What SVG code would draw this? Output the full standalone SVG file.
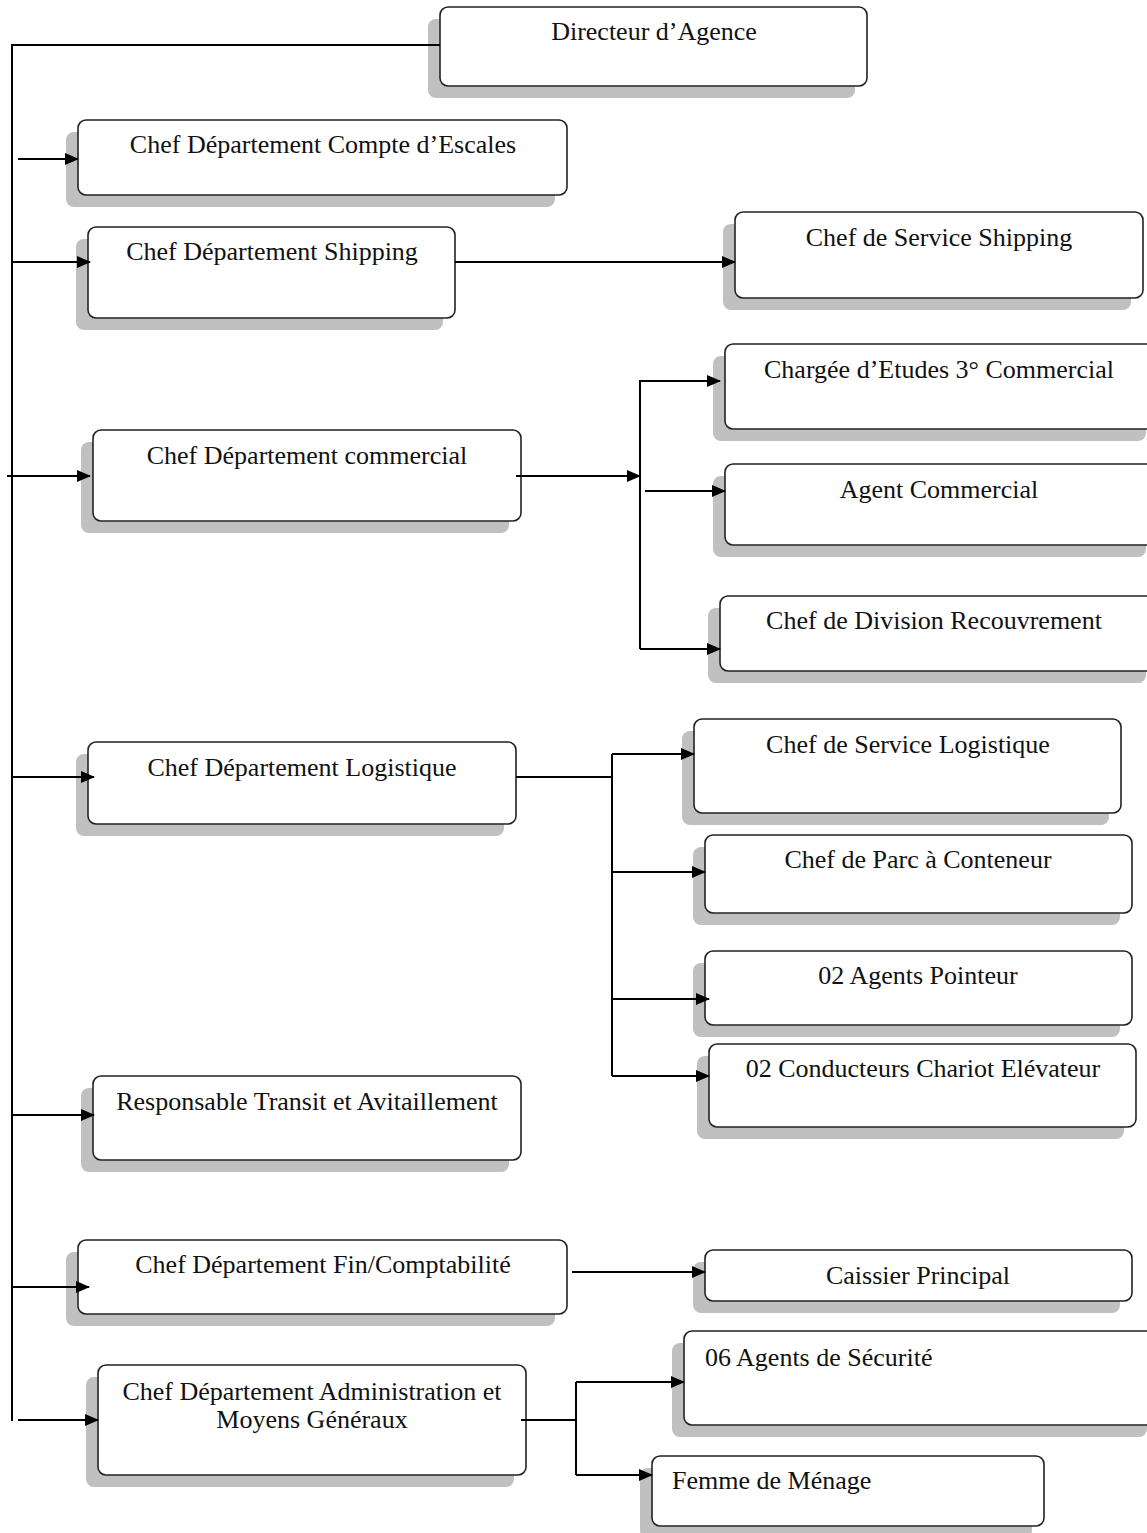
<svg xmlns="http://www.w3.org/2000/svg" width="1147" height="1533" viewBox="0 0 1147 1533">
<style>
.sh{fill:#c0c0c0;stroke:none}
.bx{fill:#fff;stroke:#222;stroke-width:1.6}
.t{font-family:"Liberation Serif","Times New Roman",serif;font-size:26px;fill:#111;text-anchor:middle}
.tl{text-anchor:start}
.c{fill:none;stroke:#000;stroke-width:2}
.a{fill:none;stroke:#000;stroke-width:2;marker-end:url(#ah)}
</style>
<defs>
<marker id="ah" viewBox="0 0 14 12" refX="13" refY="6" markerWidth="14" markerHeight="12" markerUnits="userSpaceOnUse" orient="auto">
<path d="M0,0 L14,6 L0,12 Z" fill="#000"/>
</marker>
</defs>
<g id="n1"><rect class="sh" x="428" y="19" width="427" height="79" rx="8"/><rect class="bx" x="440" y="7" width="427" height="79" rx="8"/><text class="t" x="654" y="40">Directeur d’Agence</text></g>
<g id="n2"><rect class="sh" x="66" y="132" width="489" height="75" rx="8"/><rect class="bx" x="78" y="120" width="489" height="75" rx="8"/><text class="t" x="323" y="153">Chef Département Compte d’Escales</text></g>
<g id="n3"><rect class="sh" x="76" y="239" width="367" height="91" rx="8"/><rect class="bx" x="88" y="227" width="367" height="91" rx="8"/><text class="t" x="272" y="260">Chef Département Shipping</text></g>
<g id="n4"><rect class="sh" x="723" y="224" width="408" height="86" rx="8"/><rect class="bx" x="735" y="212" width="408" height="86" rx="8"/><text class="t" x="939" y="246">Chef de Service Shipping</text></g>
<g id="n5"><rect class="sh" x="713" y="356" width="433" height="85" rx="8"/><rect class="bx" x="725" y="344" width="433" height="85" rx="8"/><text class="t" x="939" y="378">Chargée d’Etudes 3° Commercial</text></g>
<g id="n6"><rect class="sh" x="713" y="476" width="433" height="81" rx="8"/><rect class="bx" x="725" y="464" width="433" height="81" rx="8"/><text class="t" x="939" y="498">Agent Commercial</text></g>
<g id="n7"><rect class="sh" x="708" y="608" width="438" height="75" rx="8"/><rect class="bx" x="720" y="596" width="438" height="75" rx="8"/><text class="t" x="934" y="629">Chef de Division Recouvrement</text></g>
<g id="n8"><rect class="sh" x="81" y="442" width="428" height="91" rx="8"/><rect class="bx" x="93" y="430" width="428" height="91" rx="8"/><text class="t" x="307" y="464">Chef Département commercial</text></g>
<g id="n9"><rect class="sh" x="76" y="754" width="428" height="82" rx="8"/><rect class="bx" x="88" y="742" width="428" height="82" rx="8"/><text class="t" x="302" y="776">Chef Département Logistique</text></g>
<g id="n10"><rect class="sh" x="682" y="731" width="427" height="94" rx="8"/><rect class="bx" x="694" y="719" width="427" height="94" rx="8"/><text class="t" x="908" y="753">Chef de Service Logistique</text></g>
<g id="n11"><rect class="sh" x="693" y="847" width="427" height="78" rx="8"/><rect class="bx" x="705" y="835" width="427" height="78" rx="8"/><text class="t" x="918" y="868">Chef de Parc à Conteneur</text></g>
<g id="n12"><rect class="sh" x="693" y="963" width="427" height="74" rx="8"/><rect class="bx" x="705" y="951" width="427" height="74" rx="8"/><text class="t" x="918" y="984">02 Agents Pointeur</text></g>
<g id="n13"><rect class="sh" x="697" y="1056" width="427" height="83" rx="8"/><rect class="bx" x="709" y="1044" width="427" height="83" rx="8"/><text class="t" x="923" y="1077">02 Conducteurs Chariot Elévateur</text></g>
<g id="n14"><rect class="sh" x="81" y="1088" width="428" height="84" rx="8"/><rect class="bx" x="93" y="1076" width="428" height="84" rx="8"/><text class="t" x="307" y="1110">Responsable Transit et Avitaillement</text></g>
<g id="n15"><rect class="sh" x="66" y="1252" width="489" height="74" rx="8"/><rect class="bx" x="78" y="1240" width="489" height="74" rx="8"/><text class="t" x="323" y="1273">Chef Département Fin/Comptabilité</text></g>
<g id="n16"><rect class="sh" x="693" y="1262" width="427" height="51" rx="8"/><rect class="bx" x="705" y="1250" width="427" height="51" rx="8"/><text class="t" x="918" y="1284">Caissier Principal</text></g>
<g id="n17"><rect class="sh" x="86" y="1377" width="428" height="110" rx="8"/><rect class="bx" x="98" y="1365" width="428" height="110" rx="8"/><text class="t" x="312" y="1400">Chef Département Administration et</text><text class="t" x="312" y="1428">Moyens Généraux</text></g>
<g id="n18"><rect class="sh" x="672" y="1343" width="475" height="94" rx="8"/><rect class="bx" x="684" y="1331" width="475" height="94" rx="8"/><text class="t tl" x="705" y="1366">06 Agents de Sécurité</text></g>
<g id="n19"><rect class="sh" x="640" y="1468" width="392" height="70" rx="8"/><rect class="bx" x="652" y="1456" width="392" height="70" rx="8"/><text class="t tl" x="672" y="1489">Femme de Ménage</text></g>
<g id="connectors">
<path class="c" d="M440,45 H12 V1421"/>
<path class="a" d="M18,159 H78"/>
<path class="a" d="M12,262 H90"/>
<path class="a" d="M455,262 H735"/>
<path class="a" d="M7,476 H90"/>
<path class="a" d="M516,476 H640"/>
<path class="c" d="M720,381 H640 V649"/>
<path class="a" d="M640,381 H720"/>
<path class="a" d="M645,491 H725"/>
<path class="a" d="M640,649 H720"/>
<path class="a" d="M12,777 H94"/>
<path class="c" d="M516,777 H612"/>
<path class="c" d="M612,754 V1076"/>
<path class="a" d="M612,754 H694"/>
<path class="a" d="M612,872 H705"/>
<path class="a" d="M612,999 H709"/>
<path class="a" d="M612,1076 H709"/>
<path class="a" d="M12,1115 H94"/>
<path class="a" d="M12,1287 H89"/>
<path class="a" d="M572,1272 H705"/>
<path class="a" d="M18,1420 H98"/>
<path class="c" d="M521,1420 H576"/>
<path class="c" d="M576,1382 V1475"/>
<path class="a" d="M576,1382 H684"/>
<path class="a" d="M576,1475 H652"/>
</g>
</svg>
